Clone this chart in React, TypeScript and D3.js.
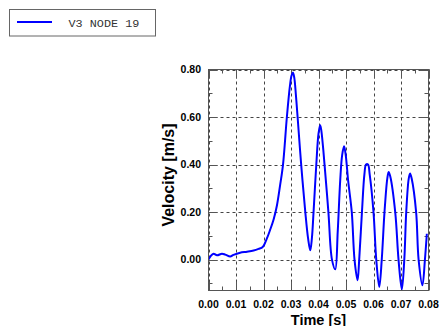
import React from "react";
import * as d3 from "d3";

const timeValues = [
  0.0, 0.0008, 0.0018, 0.0031, 0.0049, 0.0061, 0.0079, 0.0091, 0.0115, 0.014,
  0.0164, 0.0182, 0.0197, 0.0212, 0.0224, 0.0237, 0.0249, 0.026, 0.0271, 0.0285,
  0.0296, 0.0302, 0.0307, 0.0312, 0.0318, 0.0324, 0.0337, 0.0352, 0.0362, 0.037,
  0.0376, 0.0382, 0.0392, 0.04, 0.0406, 0.041, 0.0416, 0.0422, 0.0436, 0.0449,
  0.0461, 0.047, 0.0479, 0.0486, 0.0493, 0.0499, 0.0508, 0.0521, 0.0531, 0.0542,
  0.0548, 0.0558, 0.0567, 0.0573, 0.058, 0.0586, 0.06, 0.061, 0.0621, 0.063,
  0.064, 0.065, 0.0655, 0.0661, 0.0679, 0.0691, 0.0703, 0.0712, 0.0719, 0.0728,
  0.0733, 0.0739, 0.0755, 0.0764, 0.0778, 0.0787, 0.0794,
];
const velocityValues = [
  0.0, 0.015, 0.025, 0.018, 0.025, 0.021, 0.013, 0.02, 0.029, 0.033,
  0.038, 0.045, 0.053, 0.088, 0.125, 0.17, 0.229, 0.31, 0.4, 0.6,
  0.73, 0.775, 0.787, 0.765, 0.69, 0.6, 0.4, 0.2, 0.09, 0.039,
  0.09, 0.2, 0.4, 0.53, 0.565, 0.545, 0.48, 0.4, 0.2, 0.0,
  -0.041, 0.12, 0.334, 0.44, 0.477, 0.44, 0.33, 0.2, 0.0, -0.087,
  0.0, 0.2, 0.36, 0.4, 0.4, 0.36, 0.2, 0.0, -0.115, 0.0,
  0.2, 0.34, 0.369, 0.35, 0.2, 0.0, -0.126, 0.0, 0.2, 0.34,
  0.362, 0.34, 0.2, 0.0, -0.108, 0.0, 0.109,
];

const xMajorTicks = [0, 0.01, 0.02, 0.03, 0.04, 0.05, 0.06, 0.07, 0.08];
const xTickLabels = ["0.00", "0.01", "0.02", "0.03", "0.04", "0.05", "0.06", "0.07", "0.08"];
const xMinorTicks = [0.005, 0.015, 0.025, 0.035, 0.045, 0.055, 0.065, 0.075];
const yMajorTicks = [0, 0.2, 0.4, 0.6, 0.8];
const yTickLabels = ["0.00", "0.20", "0.40", "0.60", "0.80"];
const yMinorTicks = [-0.1, 0.1, 0.3, 0.5, 0.7];

const seriesName = "V3 NODE 19";
const xTitle = "Time [s]";
const yTitle = "Velocity [m/s]";

const W = 439;
const H = 326;
const left = 208.5;
const right = 428.5;
const top = 69.5;
const bottom = 290.5;

export default function App() {
  const x = d3.scaleLinear().domain([0, 0.08]).range([left, right]);
  const y = d3.scaleLinear().domain([-0.13, 0.8]).range([bottom, top]);
  const data = timeValues.map((t, i) => [t, velocityValues[i]] as [number, number]);
  const line = d3
    .line<[number, number]>()
    .x((d) => x(d[0]))
    .y((d) => y(d[1]))
    .curve(d3.curveCatmullRom.alpha(0.5));

  const axisFont = "'Liberation Sans', Arial, Helvetica, sans-serif";
  const gridColor = "#444";
  const borderColor = "#555";
  const majorLen = 9;
  const minorLen = 4;

  return (
    <svg
      width={W}
      height={H}
      style={{ position: "absolute", left: 0, top: 0, background: "#fff" }}
    >
      <defs>
        <clipPath id="plotClip">
          <rect x={left} y={top} width={right - left} height={bottom - top} />
        </clipPath>
      </defs>

      {/* Legend */}
      <rect x={9.5} y={9.5} width={146} height={26.5} fill="#fff" stroke="#666" strokeWidth={1} />
      <line x1={17} x2={52} y1={22} y2={22} stroke="#0000ff" strokeWidth={2} />
      <text
        x={68.5}
        y={27}
        fontFamily="'Courier New', 'Liberation Mono', monospace"
        fontSize={11.8}
        fill="#333"
      >
        {seriesName}
      </text>

      {/* Grid */}
      {xMajorTicks.map((t, i) => (
        <line
          key={"gx" + i}
          x1={Math.round(x(t)) + 0.5}
          x2={Math.round(x(t)) + 0.5}
          y1={top}
          y2={bottom}
          stroke={gridColor}
          strokeWidth={1}
          strokeDasharray="3,3"
        />
      ))}
      {yMajorTicks.map((v, i) => (
        <line
          key={"gy" + i}
          x1={left}
          x2={right}
          y1={Math.round(y(v)) + 0.5}
          y2={Math.round(y(v)) + 0.5}
          stroke={gridColor}
          strokeWidth={1}
          strokeDasharray="3,3"
        />
      ))}

      {/* Ticks */}
      {xMajorTicks.map((t, i) => {
        const px = Math.round(x(t)) + 0.5;
        return (
          <g key={"tx" + i}>
            <line x1={px} x2={px} y1={bottom} y2={bottom - majorLen} stroke={borderColor} />
            <line x1={px} x2={px} y1={top} y2={top + majorLen} stroke={borderColor} />
          </g>
        );
      })}
      {xMinorTicks.map((t, i) => {
        const px = Math.round(x(t)) + 0.5;
        return (
          <g key={"mx" + i}>
            <line x1={px} x2={px} y1={bottom} y2={bottom - minorLen} stroke={borderColor} />
            <line x1={px} x2={px} y1={top} y2={top + minorLen} stroke={borderColor} />
          </g>
        );
      })}
      {yMajorTicks.map((v, i) => {
        const py = Math.round(y(v)) + 0.5;
        return (
          <g key={"ty" + i}>
            <line x1={left} x2={left + majorLen} y1={py} y2={py} stroke={borderColor} />
            <line x1={right} x2={right - majorLen} y1={py} y2={py} stroke={borderColor} />
          </g>
        );
      })}
      {yMinorTicks.map((v, i) => {
        const py = Math.round(y(v)) + 0.5;
        return (
          <g key={"my" + i}>
            <line x1={left} x2={left + minorLen} y1={py} y2={py} stroke={borderColor} />
            <line x1={right} x2={right - minorLen} y1={py} y2={py} stroke={borderColor} />
          </g>
        );
      })}

      {/* Data line */}
      <path
        d={line(data) || ""}
        fill="none"
        stroke="#0000ff"
        strokeWidth={2}
        strokeLinejoin="round"
        clipPath="url(#plotClip)"
      />

      {/* Border */}
      <rect
        x={left}
        y={top}
        width={right - left}
        height={bottom - top}
        fill="none"
        stroke={borderColor}
        strokeWidth={1}
      />

      {/* Tick labels */}
      {xMajorTicks.map((t, i) => (
        <text
          key={"lx" + i}
          x={x(t)}
          y={307.5}
          textAnchor="middle"
          fontFamily={axisFont}
          fontWeight="bold"
          fontSize={10.5}
          fill="#000"
        >
          {xTickLabels[i]}
        </text>
      ))}
      {yMajorTicks.map((v, i) => (
        <text
          key={"ly" + i}
          x={201}
          y={y(v) + 3.8}
          textAnchor="end"
          fontFamily={axisFont}
          fontWeight="bold"
          fontSize={10.5}
          fill="#000"
        >
          {yTickLabels[i]}
        </text>
      ))}

      {/* Axis titles */}
      <text
        x={(left + right) / 2}
        y={324.5}
        textAnchor="middle"
        fontFamily={axisFont}
        fontWeight="bold"
        fontSize={14.5}
        fill="#000"
      >
        {xTitle}
      </text>
      <text
        transform={`translate(174, 175) rotate(-90)`}
        textAnchor="middle"
        fontFamily={axisFont}
        fontWeight="bold"
        fontSize={16}
        fill="#000"
      >
        {yTitle}
      </text>
    </svg>
  );
}
